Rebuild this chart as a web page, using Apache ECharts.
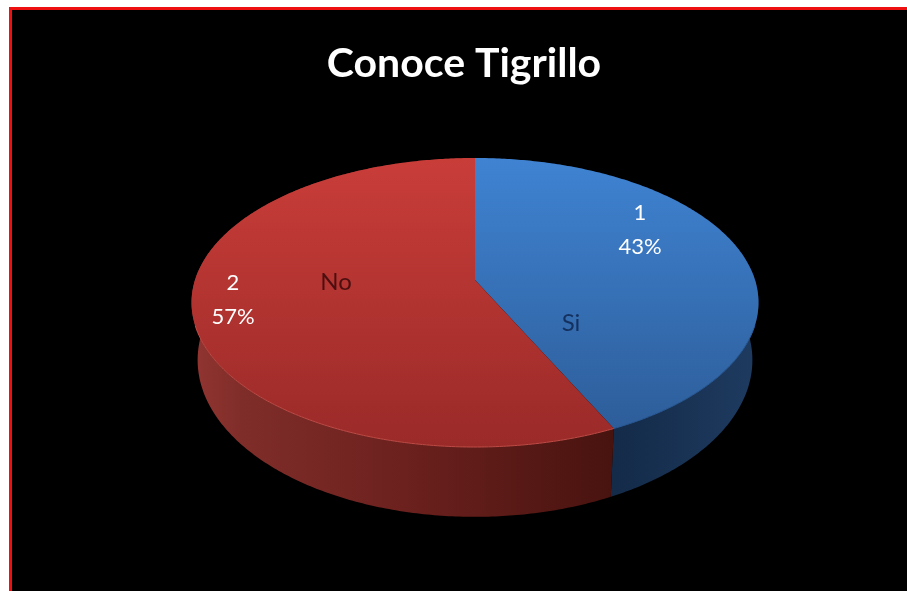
<!DOCTYPE html>
<html><head><meta charset="utf-8">
<style>html,body{margin:0;padding:0;background:#fff}#c{width:907px;height:591px}</style>
<script src="https://cdn.jsdelivr.net/npm/echarts@6/dist/echarts.min.js"></script>
</head><body><div id="c"></div>
<script>
const titleText = 'Conoce Tigrillo';
const categories = ['Si', 'No'];
const indexLabels = ['1', '2'];
const values = [43, 57];

const topFaceColors = [['#3f83d2', '#2c5b96'], ['#c93d39', '#9a2a28']];
const sideColors = [
  [[0, '#11243f'], [0.5, '#142b49'], [1, '#1e3b60']],
  [[0, '#923531'], [0.12, '#7f2d29'], [0.5, '#6c211e'], [1, '#48130f']]
];
const rimColors = ['#2a5a96', '#bf4b46'];
const nameInk = ['#14305e', '#4c0f10'];
const valueAnchors = [[640, 230], [233, 300]];
const nameAnchors = [[571, 323], [336, 282]];

const topPlane = {x: 475, y: 280, a: 280, b: 141};
const basePlane = {x: 475, y: 335.6, a: 274, b: 153};
const k = 0.1558;
const total = values.reduce((s, v) => s + v, 0);

function project(p, t) {
  const u = -Math.cos(t), w = 1 - k * u;
  return [p.x + p.a * Math.sin(t) / w, p.y + p.b * u / w];
}
function arc(p, t0, t1) {
  const n = Math.max(2, Math.ceil((t1 - t0) * 90)), pts = [];
  for (let i = 0; i <= n; i++) pts.push(project(p, t0 + (t1 - t0) * i / n));
  return pts;
}
const G = echarts.graphic.LinearGradient;

function renderItem(params, api) {
  const i = params.dataIndex;
  let before = 0;
  for (let j = 0; j < i; j++) before += values[j];
  const t0 = before / total * Math.PI * 2;
  const t1 = (before + api.value(1)) / total * Math.PI * 2;
  const topArc = arc(topPlane, t0, t1);
  const baseArc = arc(basePlane, t0, t1);
  const face = topArc.concat([[topPlane.x, topPlane.y]]);
  const side = topArc.concat(baseArc.slice().reverse());
  const rim = topArc.filter(q => q[1] > 325);
  const xs = side.map(q => q[0]);
  const sideFill = new G(Math.min(...xs), 0, Math.max(...xs), 0,
    sideColors[i].map(s => ({offset: s[0], color: s[1]})), true);
  const faceFill = new G(0, 158, 0, 447, [
    {offset: 0, color: topFaceColors[i][0]},
    {offset: 1, color: topFaceColors[i][1]}], true);
  const pct = Math.round(api.value(1) / total * 100);
  return {type: 'group', children: [
    {type: 'polygon', z2: 1, shape: {points: side}, style: {fill: sideFill}},
    {type: 'polygon', z2: 2, shape: {points: face}, style: {fill: faceFill}},
    {type: 'polyline', z2: 3, shape: {points: rim},
      style: {fill: null, stroke: rimColors[i], lineWidth: 1}},
    {type: 'text', z2: 4, x: valueAnchors[i][0], y: valueAnchors[i][1], style: {
      text: indexLabels[i] + '\n' + pct + '%', fill: '#ffffff',
      font: '22px Lato', lineHeight: 34, align: 'center', verticalAlign: 'middle'}},
    {type: 'text', z2: 4, x: nameAnchors[i][0], y: nameAnchors[i][1], style: {
      text: categories[i], fill: nameInk[i],
      font: '24px Lato', align: 'center', verticalAlign: 'middle'}}
  ]};
}

const chart = echarts.init(document.getElementById('c'), null, {renderer: 'canvas'});
chart.setOption({
  animation: false,
  backgroundColor: '#ffffff',
  title: {
    text: titleText, left: 459, top: 38, textAlign: 'center',
    textStyle: {color: '#ffffff', fontFamily: 'Lato', fontWeight: 'bold', fontSize: 41}
  },
  graphic: [{
    type: 'rect', z: -1, silent: true,
    shape: {x: 10.5, y: 8.5, width: 930, height: 620},
    style: {fill: '#000000', stroke: '#ee1111', lineWidth: 3}
  }],
  series: [{
    type: 'custom', coordinateSystem: 'none', renderItem,
    data: categories.map((c, i) => ({name: c, value: [i, values[i]]}))
  }]
});
</script></body></html>
